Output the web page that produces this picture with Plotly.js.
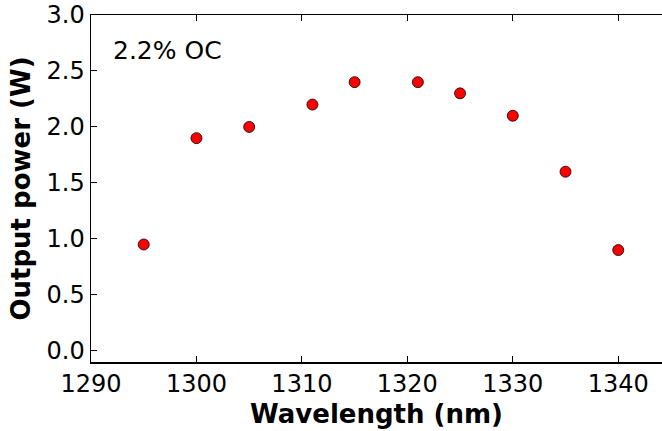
<!DOCTYPE html>
<html><head><meta charset="utf-8">
<script src="https://cdn.plot.ly/plotly-3.0.1.min.js"></script>
<style>html,body{margin:0;padding:0;background:#fff}</style>
</head><body>
<div id="chart" style="width:662px;height:431px"></div>
<script>
const wavelength = [1295, 1300, 1305, 1311, 1315, 1321, 1325, 1330, 1335, 1340];
const power = [0.95, 1.9, 2.0, 2.2, 2.4, 2.4, 2.3, 2.1, 1.6, 0.9];
const xTicks = [1290, 1300, 1310, 1320, 1330, 1340];
const yTicks = [0.0, 0.5, 1.0, 1.5, 2.0, 2.5, 3.0];
const yTickText = yTicks.map(v => v.toFixed(1));
const font = 'DejaVu Sans, sans-serif';

Plotly.newPlot('chart', [{
  x: wavelength, y: power, type: 'scatter', mode: 'markers',
  marker: {color: '#ff0000', size: 11, line: {color: '#000', width: 0.8}},
  cliponaxis: false
}], {
  width: 662, height: 431,
  margin: {l: 91, r: 0, t: 15, b: 69},
  paper_bgcolor: '#fff', plot_bgcolor: '#fff',
  showlegend: false,
  font: {family: font, color: '#000', size: 24},
  xaxis: {
    range: [1290, 1344.15], tickvals: xTicks, ticktext: xTicks.map(String),
    ticks: 'inside', ticklen: 6, tickwidth: 1, tickcolor: '#000',
    showline: true, linecolor: '#000', linewidth: 1.5, mirror: 'ticks',
    showgrid: false, zeroline: false,
    tickfont: {size: 24, family: font},
    title: {text: '<b>Wavelength (nm)</b>', font: {size: 26, family: font}, standoff: 7}
  },
  yaxis: {
    range: [-0.1, 3.0], tickvals: yTicks, ticktext: yTickText,
    ticks: 'inside', ticklen: 6, tickwidth: 1, tickcolor: '#000',
    showline: true, linecolor: '#000', linewidth: 1.5,
    showgrid: false, zeroline: false,
    tickfont: {size: 24, family: font},
    title: {text: '<b>Output power (W)</b>', font: {size: 26, family: font}, standoff: 8}
  },
  annotations: [{
    text: '2.2% OC', xref: 'paper', yref: 'paper', x: 0.035, y: 0.899,
    xanchor: 'left', yanchor: 'middle', showarrow: false,
    font: {size: 25, family: font}
  }]
}, {displayModeBar: false, staticPlot: true});
</script>
</body></html>
